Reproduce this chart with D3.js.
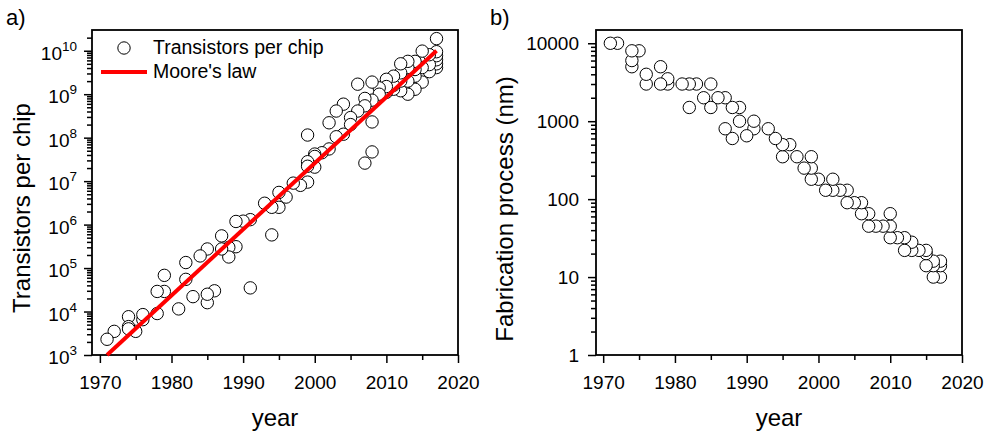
<!DOCTYPE html>
<html>
<head>
<meta charset="utf-8">
<script src="https://cdn.jsdelivr.net/npm/d3@7"></script>
<style>
  html, body { margin: 0; padding: 0; background: #fff; }
  svg { display: block; font-family: "Liberation Sans", Arial, sans-serif; }
</style>
</head>
<body>
<svg id="chart" width="988" height="436"></svg>
<script>
// ---- Panel a: transistor counts per chip ----
const chipYears = [
  1971, 1972, 1974, 1974, 1974, 1975, 1976, 1976, 1978, 1978,
  1979, 1979, 1981, 1982, 1982, 1983, 1984, 1985, 1985, 1985,
  1986, 1987, 1987, 1988, 1988, 1989, 1989, 1990, 1991, 1991,
  1993, 1994, 1994, 1995, 1995, 1996, 1997, 1998, 1999, 1999,
  1999, 1999, 2000, 2000, 2000, 2001, 2002, 2002, 2003, 2003,
  2004, 2004, 2005, 2005, 2006, 2006, 2007, 2007, 2007, 2008,
  2008, 2008, 2008, 2009, 2009, 2010, 2010, 2010, 2011, 2011,
  2011, 2012, 2012, 2012, 2012, 2013, 2013, 2013, 2013, 2014,
  2014, 2014, 2014, 2015, 2015, 2015, 2016, 2016, 2016, 2017,
  2017, 2017, 2017, 2017, 2017
];
const chipTransistors = [
  2300, 3500, 4000, 4500, 7600, 3500, 8500, 6500, 9000, 29000,
  29000, 68000, 11500, 55000, 134000, 22000, 190000, 275000, 25000, 16000,
  30000, 550000, 275000, 180000, 300000, 310000, 1180000, 1200000, 1300000, 35000,
  3100000, 580000, 2500000, 5500000, 2500000, 4300000, 9000000, 8000000, 9500000, 22000000,
  28000000, 115000000, 21000000, 37000000, 42000000, 45000000, 55000000, 220000000, 105000000, 410000000,
  120000000, 590000000, 200000000, 290000000, 1700000000, 410000000, 26000000, 540000000, 800000000, 1900000000,
  47000000, 230000000, 730000000, 1000000000, 1400000000, 1500000000, 2200000000, 1100000000, 2600000000, 1600000000,
  1300000000, 5000000000, 3100000000, 2000000000, 1200000000, 5700000000, 4100000000, 2000000000, 1000000000, 5700000000,
  3700000000, 2600000000, 1300000000, 9800000000, 4100000000, 1900000000, 8100000000, 4800000000, 3300000000, 19000000000,
  9500000000, 7700000000, 6200000000, 5000000000, 4100000000
];
// Moore's law reference line (end points)
const mooreYears = [1971, 2017];
const mooreTransistors = [1e3, 1e10];

// ---- Panel b: fabrication process node ----
const fabYears = [
  1971, 1972, 1974, 1974, 1974, 1975, 1976, 1976, 1978, 1978,
  1979, 1979, 1981, 1982, 1982, 1983, 1984, 1985, 1985, 1986,
  1987, 1987, 1988, 1988, 1989, 1989, 1990, 1991, 1991, 1993,
  1994, 1995, 1995, 1996, 1997, 1998, 1999, 1999, 1999, 2000,
  2001, 2002, 2002, 2003, 2004, 2004, 2005, 2006, 2006, 2007,
  2007, 2008, 2009, 2010, 2010, 2010, 2011, 2012, 2012, 2013,
  2013, 2014, 2015, 2015, 2015, 2016, 2016, 2016, 2017, 2017,
  2017
];
const fabNodes = [
  10000, 10000, 8000, 6000, 5000, 8000, 4000, 3000, 5000, 3000,
  3500, 3000, 3000, 3000, 1500, 3000, 2000, 3000, 1500, 2000,
  2000, 800, 1500, 600, 1500, 1000, 650, 1000, 800, 800,
  600, 500, 350, 500, 350, 250, 350, 250, 180, 180,
  130, 180, 130, 130, 130, 90, 90, 90, 65, 65,
  45, 45, 45, 65, 45, 32, 32, 32, 22, 28,
  22, 22, 22, 20, 14, 16, 14, 10, 16, 14,
  10
];

// ---- Tick values and labels ----
const yearTicks = [1970, 1980, 1990, 2000, 2010, 2020];
const yearMinorTicks = [1975, 1985, 1995, 2005, 2015];
const chipTicks = [1e3, 1e4, 1e5, 1e6, 1e7, 1e8, 1e9, 1e10];
const fabTicks = [1, 10, 100, 1000, 10000];
const legendLabels = ["Transistors per chip", "Moore's law"];
const panelLabels = ["a)", "b)"];
const xTitle = "year";
const chipTitle = "Transistors per chip";
const fabTitle = "Fabrication process (nm)";

// ---- Layout ----
const svg = d3.select("#chart");
const plotTop = 30, plotBottom = 355;
const panelA = { left: 92, right: 458 };
const panelB = { left: 596, right: 962 };
const TICK_FONT = 19, TITLE_FONT = 24;
const MARK_R = 6.2;

function logMinors(domain) {
  const out = [];
  const lo = Math.floor(Math.log10(domain[0])), hi = Math.ceil(Math.log10(domain[1]));
  for (let e = lo; e <= hi; e++) {
    for (let k = 2; k <= 9; k++) {
      const v = k * Math.pow(10, e);
      if (v > domain[0] && v < domain[1]) out.push(v);
    }
  }
  return out;
}

function styleAxis(g) {
  g.select(".domain").remove();
  g.selectAll(".tick line").attr("stroke", "#000").attr("stroke-width", 1.5);
  g.selectAll("text").attr("fill", "#000");
}

function drawPanel(p, x, y, majorY, labelFn, yPadding) {
  const root = svg.append("g");

  // x axis
  const xa = root.append("g").attr("transform", `translate(0,${plotBottom})`)
    .call(d3.axisBottom(x).tickValues(yearTicks).tickSize(8).tickPadding(12.5).tickFormat(d3.format("d")));
  xa.attr("font-size", TICK_FONT).attr("font-family", null);
  styleAxis(xa);
  const xm = root.append("g").attr("transform", `translate(0,${plotBottom})`)
    .call(d3.axisBottom(x).tickValues(yearMinorTicks).tickSize(5).tickFormat(""));
  styleAxis(xm);

  // y axis
  const ya = root.append("g").attr("transform", `translate(${p.left},0)`)
    .call(d3.axisLeft(y).tickValues(majorY).tickSize(8).tickPadding(yPadding).tickFormat(""));
  ya.attr("font-size", TICK_FONT).attr("font-family", null);
  styleAxis(ya);
  ya.selectAll(".tick text").each(function (d) { labelFn(d3.select(this), d); });
  const ym = root.append("g").attr("transform", `translate(${p.left},0)`)
    .call(d3.axisLeft(y).tickValues(logMinors(y.domain())).tickSize(5).tickFormat(""));
  styleAxis(ym);

  // frame
  root.append("rect")
    .attr("x", p.left).attr("y", plotTop)
    .attr("width", p.right - p.left).attr("height", plotBottom - plotTop)
    .attr("fill", "none").attr("stroke", "#000").attr("stroke-width", 1.8);

  // x title
  root.append("text")
    .attr("x", (p.left + p.right) / 2).attr("y", 426)
    .attr("text-anchor", "middle").attr("font-size", TITLE_FONT)
    .text(xTitle);
  return root;
}

function drawCircles(root, x, y, years, values) {
  const idx = d3.range(years.length).reverse();
  root.append("g").selectAll("circle")
    .data(idx)
    .join("circle")
    .attr("cx", i => x(years[i]))
    .attr("cy", i => y(values[i]))
    .attr("r", MARK_R)
    .attr("fill", "#fff")
    .attr("stroke", "#000")
    .attr("stroke-width", 1);
}

// ===== Panel a =====
const xA = d3.scaleLinear().domain([1968.9, 2020]).range([panelA.left, panelA.right]);
const yA = d3.scaleLog().domain([1e3, 3e10]).range([plotBottom, plotTop]);

const gA = drawPanel(panelA, xA, yA, chipTicks, (t, d) => {
  t.text(null).attr("dy", "0.45em");
  t.append("tspan").text("10");
  t.append("tspan").attr("font-size", 13.5).attr("dy", -9)
    .text(Math.round(Math.log10(d)));
}, 7);

const lineA = d3.line().x(d => xA(d[0])).y(d => yA(d[1]));
drawCircles(gA, xA, yA, chipYears, chipTransistors);
gA.append("path")
  .datum(mooreYears.map((yr, i) => [yr, mooreTransistors[i]]))
  .attr("d", lineA)
  .attr("fill", "none").attr("stroke", "#ff0000").attr("stroke-width", 4);

// legend
gA.append("circle").attr("cx", 124).attr("cy", 48).attr("r", MARK_R)
  .attr("fill", "#fff").attr("stroke", "#000").attr("stroke-width", 1);
gA.append("text").attr("x", 153).attr("y", 54).attr("font-size", 19.5).text(legendLabels[0]);
gA.append("line").attr("x1", 101).attr("x2", 147).attr("y1", 72).attr("y2", 72)
  .attr("stroke", "#ff0000").attr("stroke-width", 4);
gA.append("text").attr("x", 153).attr("y", 78).attr("font-size", 19.5).text(legendLabels[1]);

gA.append("text")
  .attr("transform", `translate(29.5,208) rotate(-90)`)
  .attr("text-anchor", "middle").attr("font-size", TITLE_FONT)
  .text(chipTitle);

// ===== Panel b =====
const xB = d3.scaleLinear().domain([1969, 2020]).range([panelB.left, panelB.right]);
const yB = d3.scaleLog().domain([1, 1.48e4]).range([plotBottom, plotTop]);

const gB = drawPanel(panelB, xB, yB, fabTicks, (t, d) => {
  t.text(d3.format("d")(d)).attr("dy", "0.35em");
}, 9);
drawCircles(gB, xB, yB, fabYears, fabNodes);

gB.append("text")
  .attr("transform", `translate(513,209) rotate(-90)`)
  .attr("text-anchor", "middle").attr("font-size", TITLE_FONT)
  .text(fabTitle);

// panel letters
svg.append("text").attr("x", 6).attr("y", 25).attr("font-size", 22).text(panelLabels[0]);
svg.append("text").attr("x", 490).attr("y", 25).attr("font-size", 22).text(panelLabels[1]);
</script>
</body>
</html>
